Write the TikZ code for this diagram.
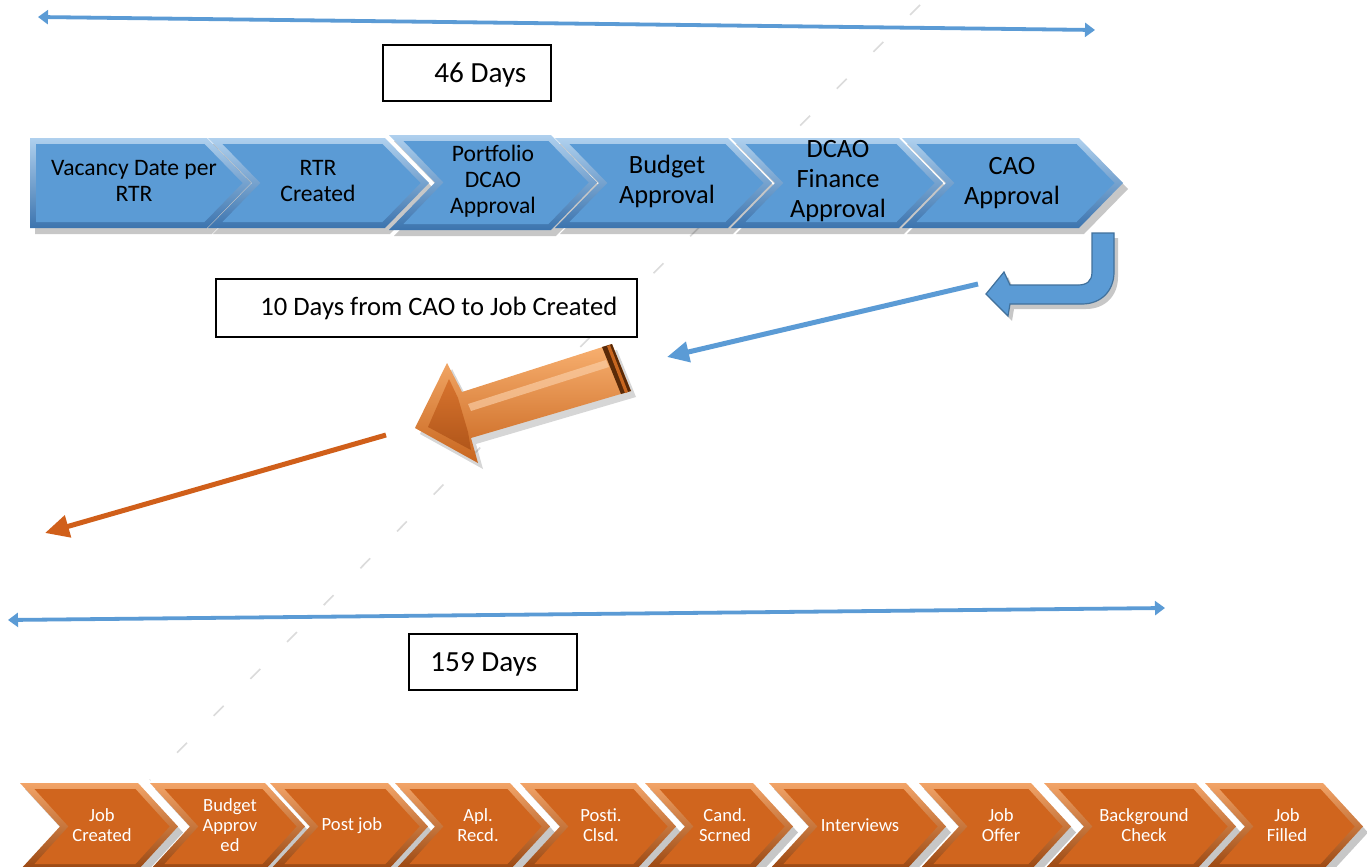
\documentclass[tikz,border=0pt]{standalone}
\usepackage{fontspec}
\setmainfont{Carlito}
\usetikzlibrary{arrows.meta,calc}
\definecolor{blueM}{HTML}{5B9BD5}
\definecolor{blueL}{HTML}{AFD0EE}
\definecolor{blueD}{HTML}{3C74AE}
\definecolor{blueE}{HTML}{41719C}
\definecolor{orM}{HTML}{D0651E}
\definecolor{orL}{HTML}{F2A468}
\definecolor{orD}{HTML}{9A4711}
\definecolor{lineor}{HTML}{D05F1A}
\definecolor{arrL}{HTML}{F8B070}
\definecolor{arrD}{HTML}{C8661F}
\definecolor{arrB}{HTML}{5A2A08}
\newcommand\mychev[7]{%
  \pgfmathsetmacro\chvM{(#3+#4)/2}%
  \pgfmathsetmacro\chvA{#2-#5}%
  \pgfmathsetmacro\chvN{#1+#6}%
  \pgfmathsetmacro\chvNi{#6>0 ? \chvN+8.5 : #1+6}%
  \pgfmathsetmacro\chvLi{#6>0 ? #1+14.5 : #1+6}%
  \fill[black,opacity=.22] (#1+5,#3+6) -- (\chvA+5,#3+6) -- (#2+5,\chvM+6) -- (\chvA+5,#4+6) -- (#1+5,#4+6) -- (\chvN+5,\chvM+6) -- cycle;
  \shade[top color=#7L,bottom color=#7D] (#1,#3) -- (\chvA,#3) -- (#2,\chvM) -- (\chvA,#4) -- (#1,#4) -- (\chvN,\chvM) -- cycle;
  \fill[#7M] (\chvLi,#3+6) -- (\chvA-2.5,#3+6) -- (#2-8.5,\chvM) -- (\chvA-2.5,#4-6) -- (\chvLi,#4-6) -- (\chvNi,\chvM) -- cycle;
}
\begin{document}
\begin{tikzpicture}[x=0.5pt,y=-0.5pt,
  toptxt/.style={align=center,text=black,inner sep=0,font=\fontsize{11.8}{13}\selectfont},
  toptxtb/.style={align=center,text=black,inner sep=0,font=\fontsize{13.2}{15}\selectfont},
  bottxt/.style={align=center,text=white,inner sep=0,font=\fontsize{9.3}{9.9}\selectfont},
  boxframe/.style={draw=black,line width=0.9pt,fill=white,minimum width=84pt,minimum height=28pt,inner sep=0},
  boxtxt/.style={anchor=west,inner sep=0,font=\fontsize{14.6}{17}\selectfont},
  dbl/.style={{Triangle[length=5pt,width=7pt]}-{Triangle[length=5pt,width=7pt]},draw=blueM,line width=1.9pt},
  guide/.style={draw=gray!28,line width=0.8pt,dash pattern=on 7pt off 19pt}]
\useasboundingbox (0,0) rectangle (1367,867);
\clip (0,0) rectangle (1367,867);
\fill[white] (0,0) rectangle (1367,867);

% faint dashed guide line behind everything
\coordinate (g1) at (920,5);
\coordinate (g2) at (150,780);
\draw[guide] (g1) -- (g2);

% top span arrow
\coordinate (ta) at (38,17);
\coordinate (tb) at (1095,30);
\draw[dbl] (ta) -- (tb);

\node[boxframe] (box46) at (467,73) {};
\node[boxtxt] (t46) at (434,75) {46 Days};

% top chevrons
\mychev{30}{251}{138}{228}{44}{0}{blue}
\mychev{208}{429}{138}{228}{44}{44}{blue}
\mychev{389}{597}{135}{230}{46}{46}{blue}
\mychev{555}{772}{138}{228}{44}{44}{blue}
\mychev{731}{943}{138}{228}{44}{44}{blue}
\mychev{902}{1123}{138}{228}{44}{44}{blue}
\node[toptxt] (c1) at (134,181) {Vacancy Date per\\RTR};
\node[toptxt] (c2) at (318,181) {RTR\\Created};
\node[toptxt] (c3) at (493,181) {Portfolio\\DCAO\\Approval};
\node[toptxtb] (c4) at (667,181) {Budget\\Approval};
\node[toptxtb] (c5) at (838,181) {DCAO\\Finance\\Approval};
\node[toptxtb] (c6) at (1012,183) {CAO\\Approval};

% U-turn arrow
\fill[black,opacity=.22] (1096,238) -- (1118,238) -- (1118,277) .. controls (1118,296) and (1105,309) .. (1086,309) -- (1014,309) -- (1012,321) -- (990,299) -- (1008,277) -- (1014,290) -- (1082,290) .. controls (1091,290) and (1096,286) .. (1096,277) -- cycle;
\filldraw[fill=blueM,draw=blueE,line width=0.6pt] (1092,233) -- (1114,233) -- (1114,272) .. controls (1114,291) and (1101,304) .. (1082,304) -- (1010,304) -- (1008,316) -- (986,294) -- (1004,272) -- (1010,285) -- (1078,285) .. controls (1087,285) and (1092,281) .. (1092,272) -- cycle;
\coordinate (ut) at (978,284);
\coordinate (be) at (667,357);
\draw[blueM,line width=2.5pt,-{Triangle[length=11pt,width=10pt]}] (ut) -- (be);

\node[draw=black,line width=0.9pt,fill=white,minimum width=210.5pt,minimum height=29pt,inner sep=0] (box10) at (426.5,308) {};
\node[anchor=west,inner sep=0,font=\fontsize{13.3}{16}\selectfont] (t10) at (260,308) {10 Days from CAO to Job Created};

% orange 3D arrow
\fill[black,opacity=.16] (420,434) -- (452,369) -- (467,398) -- (617,350) -- (636,397) -- (476,444) -- (483,469) -- cycle;
\shade[top color=arrL,bottom color=arrD] (415,428) -- (447,363) -- (462,392) -- (612,344) -- (631,391) -- (471,438) -- (478,463) -- cycle;
\shade[top color=orM!80!arrL,bottom color=orM!85!black] (428,427) -- (449,379) -- (458,398) -- (468,432) -- (471,450) -- cycle;
\fill[arrL!60!white,opacity=.65] (468,404) -- (606,360) -- (609,367) -- (471,411) -- cycle;
\fill[arrB] (602,347) -- (612,344) -- (631,391) -- (621,394) -- cycle;
\fill[arrD] (607,346) -- (610,345) -- (628,392) -- (625,393) -- cycle;

\coordinate (oa) at (386,435);
\coordinate (ob) at (45,533);
\draw[lineor,line width=2.5pt,-{Triangle[length=12pt,width=11pt]}] (oa) -- (ob);

% bottom span arrow
\coordinate (ba) at (8,620);
\coordinate (bb) at (1165,608);
\draw[dbl] (ba) -- (bb);

\node[boxframe] (box159) at (493,662) {};
\node[boxtxt] (t159) at (430,664) {159 Days};

% bottom chevrons
\mychev{20}{178}{783}{870}{40}{40}{or}
\mychev{150}{305}{783}{870}{40}{40}{or}
\mychev{270}{428}{783}{870}{40}{40}{or}
\mychev{395}{550}{783}{870}{40}{40}{or}
\mychev{520}{676}{783}{870}{40}{40}{or}
\mychev{645}{793}{783}{870}{40}{40}{or}
\mychev{769}{946}{783}{870}{40}{40}{or}
\mychev{919}{1071}{783}{870}{40}{40}{or}
\mychev{1044}{1236}{783}{870}{40}{40}{or}
\mychev{1205}{1363}{783}{870}{40}{40}{or}
\node[bottxt] (d1) at (102,825) {Job\\Created};
\node[bottxt] (d2) at (230,825) {Budget\\Approv\\ed};
\node[bottxt] (d3) at (352,826) {Post job};
\node[bottxt] (d4) at (478,825) {Apl.\\Recd.};
\node[bottxt] (d5) at (601,825) {Posti.\\Clsd.};
\node[bottxt] (d6) at (725,825) {Cand.\\Scrned};
\node[bottxt] (d7) at (860,825) {Interviews};
\node[bottxt] (d8) at (1001,825) {Job\\Offer};
\node[bottxt] (d9) at (1144,825) {Background\\Check};
\node[bottxt] (d10) at (1287,825) {Job\\Filled};
\end{tikzpicture}
\end{document}
